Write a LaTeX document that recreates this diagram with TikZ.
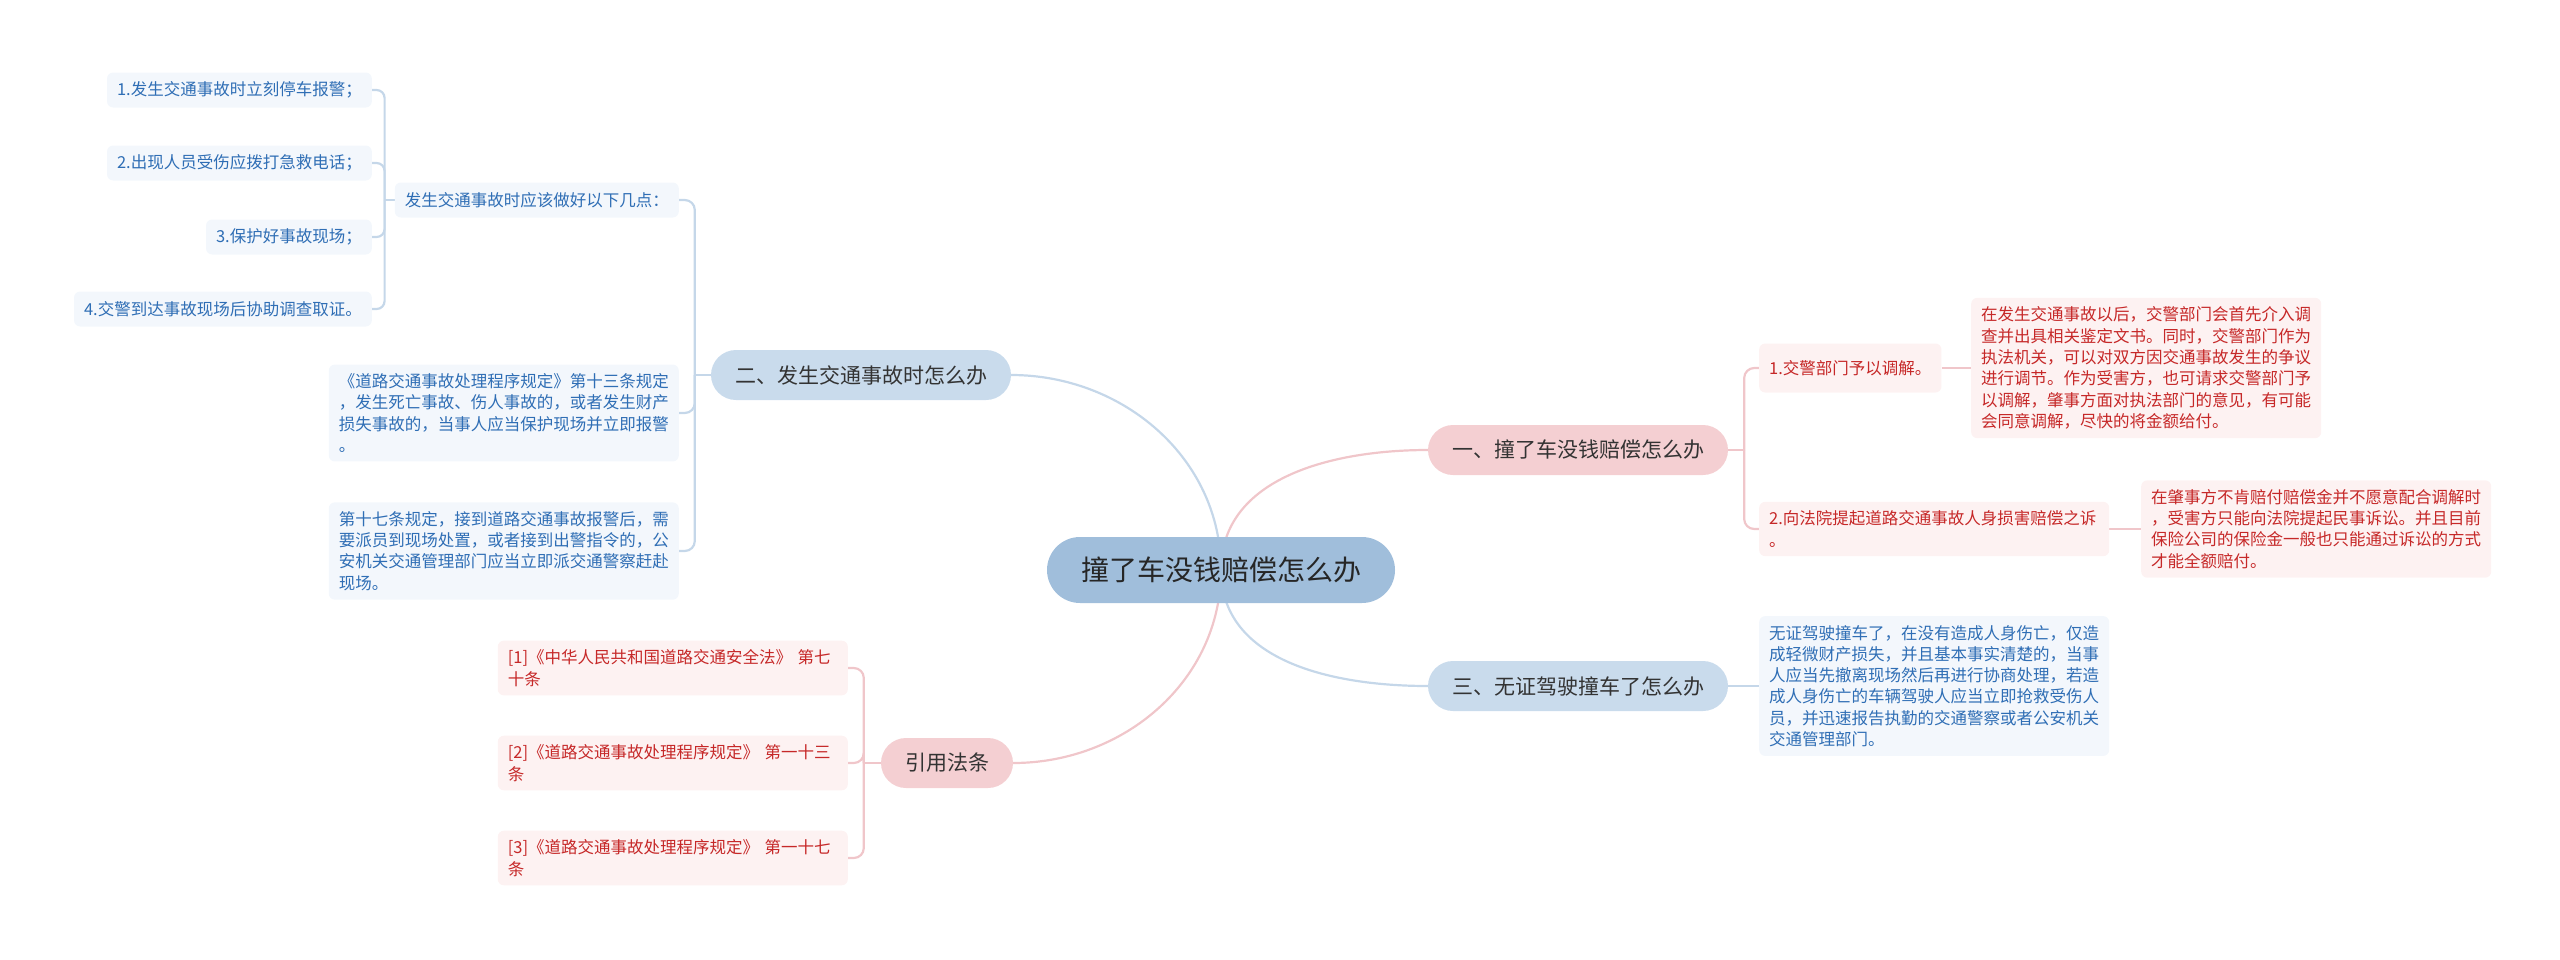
\documentclass[tikz,border=0pt]{standalone}
\usepackage{fontspec}
\newfontfamily\cjk{Noto Sans CJK SC}
\usetikzlibrary{backgrounds}
\definecolor{rootfill}{HTML}{A0BEDB}
\definecolor{bluefill}{HTML}{C9DBEC}
\definecolor{pinkfill}{HTML}{F4CFD2}
\definecolor{blueleaf}{HTML}{F3F7FC}
\definecolor{pinkleaf}{HTML}{FDF2F2}
\definecolor{bluetext}{HTML}{2F6EB5}
\definecolor{redtext}{HTML}{C62828}
\definecolor{blueline}{HTML}{C5D7E9}
\definecolor{pinkline}{HTML}{F0C6CA}
\begin{document}
\begin{tikzpicture}[x=1pt,y=-1pt,
    rootnode/.style={fill=rootfill,text=black!85,rounded corners=33pt,minimum height=66pt,inner xsep=34pt,font=\cjk\fontsize{28}{34}\selectfont},
    branchblue/.style={fill=bluefill,text=black!80,rounded corners=25pt,minimum height=50pt,inner xsep=24pt,font=\cjk\fontsize{21}{26}\selectfont},
    branchpink/.style={branchblue,fill=pinkfill},
    leafblue/.style={fill=blueleaf,text=bluetext,rounded corners=6pt,minimum height=35pt,inner xsep=10pt,inner ysep=9pt,align=left,font=\cjk\fontsize{16.5}{21.3}\selectfont},
    leafpink/.style={leafblue,fill=pinkleaf,text=redtext},
    wide/.style={text width=330pt},
    linkblue/.style={draw=blueline,line width=2.2pt},
    linkpink/.style={draw=pinkline,line width=2.2pt}]
    \useasboundingbox (0,0) rectangle (2560,959);
    % centro e rami
    \node[rootnode] (root) at (1221,570) {撞了车没钱赔偿怎么办};
    \node[branchpink] (b1) at (1578,450) {一、撞了车没钱赔偿怎么办};
    \node[branchblue] (b2) at (861,375) {二、发生交通事故时怎么办};
    \node[branchblue] (b3) at (1578,686) {三、无证驾驶撞车了怎么办};
    \node[branchpink] (b4) at (947,763) {引用法条};
    % ramo uno
    \node[leafpink,anchor=west,minimum height=49pt] (c11) at (1759,368) {1.交警部门予以调解。};
    \node[leafpink,wide,anchor=west] (d11) at (1971,368) {在发生交通事故以后，交警部门会首先介入调\\查并出具相关鉴定文书。同时，交警部门作为\\执法机关，可以对双方因交通事故发生的争议\\进行调节。作为受害方，也可请求交警部门予\\以调解，肇事方面对执法部门的意见，有可能\\会同意调解，尽快的将金额给付。};
    \node[leafpink,wide,anchor=west] (c12) at (1759,529) {2.向法院提起道路交通事故人身损害赔偿之诉\\。};
    \node[leafpink,wide,anchor=west] (d12) at (2141,529) {在肇事方不肯赔付赔偿金并不愿意配合调解时\\，受害方只能向法院提起民事诉讼。并且目前\\保险公司的保险金一般也只能通过诉讼的方式\\才能全额赔付。};
    % ramo due
    \node[leafblue,anchor=east] (c21) at (679,200) {发生交通事故时应该做好以下几点：};
    \node[leafblue,anchor=east] (e1) at (372,90) {1.发生交通事故时立刻停车报警；};
    \node[leafblue,anchor=east] (e2) at (372,163) {2.出现人员受伤应拨打急救电话；};
    \node[leafblue,anchor=east] (e3) at (372,237) {3.保护好事故现场；};
    \node[leafblue,anchor=east] (e4) at (372,309) {4.交警到达事故现场后协助调查取证。};
    \node[leafblue,wide,anchor=east] (c22) at (679,413) {《道路交通事故处理程序规定》第十三条规定\\，发生死亡事故、伤人事故的，或者发生财产\\损失事故的，当事人应当保护现场并立即报警\\。};
    \node[leafblue,wide,anchor=east] (c23) at (679,551) {第十七条规定，接到道路交通事故报警后，需\\要派员到现场处置，或者接到出警指令的，公\\安机关交通管理部门应当立即派交通警察赶赴\\现场。};
    % ramo tre
    \node[leafblue,wide,anchor=west] (c31) at (1759,686) {无证驾驶撞车了，在没有造成人身伤亡，仅造\\成轻微财产损失，并且基本事实清楚的，当事\\人应当先撤离现场然后再进行协商处理，若造\\成人身伤亡的车辆驾驶人应当立即抢救受伤人\\员，并迅速报告执勤的交通警察或者公安机关\\交通管理部门。};
    % leggi
    \node[leafpink,wide,anchor=east] (c41) at (848,668) {[1]《中华人民共和国道路交通安全法》 第七\\十条};
    \node[leafpink,wide,anchor=east] (c42) at (848,763) {[2]《道路交通事故处理程序规定》 第一十三\\条};
    \node[leafpink,wide,anchor=east] (c43) at (848,858) {[3]《道路交通事故处理程序规定》 第一十七\\条};
    % collegamenti
    \begin{scope}[on background layer]
        \draw[linkpink] (root.center) to[out=90,in=180] (b1.west);
        \draw[linkblue] (root.center) to[out=90,in=0] (b2.east);
        \draw[linkblue] (root.center) to[out=-90,in=180] (b3.west);
        \draw[linkpink] (root.center) to[out=-90,in=0] (b4.east);
        \draw[linkpink] (b1.east) -- ++(16,0) coordinate (j1);
        \draw[linkpink,rounded corners=10pt] (j1) |- (c11.west);
        \draw[linkpink,rounded corners=10pt] (j1) |- (c12.west);
        \draw[linkpink] (c11.east) -- (d11.west);
        \draw[linkpink] (c12.east) -- (d12.west);
        \draw[linkblue] (b2.west) -- ++(-16,0) coordinate (j2);
        \draw[linkblue,rounded corners=10pt] (j2) |- (c21.east);
        \draw[linkblue,rounded corners=10pt] (j2) |- (c22.east);
        \draw[linkblue,rounded corners=10pt] (j2) |- (c23.east);
        \draw[linkblue] (c21.west) -- ++(-10,0) coordinate (j21);
        \foreach \n in {e1,e2,e3,e4}
            \draw[linkblue,rounded corners=8pt] (j21) |- (\n.east);
        \draw[linkblue] (b3.east) -- (c31.west);
        \draw[linkpink] (b4.west) -- ++(-17,0) coordinate (j4);
        \foreach \n in {c41,c42,c43}
            \draw[linkpink,rounded corners=10pt] (j4) |- (\n.east);
    \end{scope}
\end{tikzpicture}
\end{document}
